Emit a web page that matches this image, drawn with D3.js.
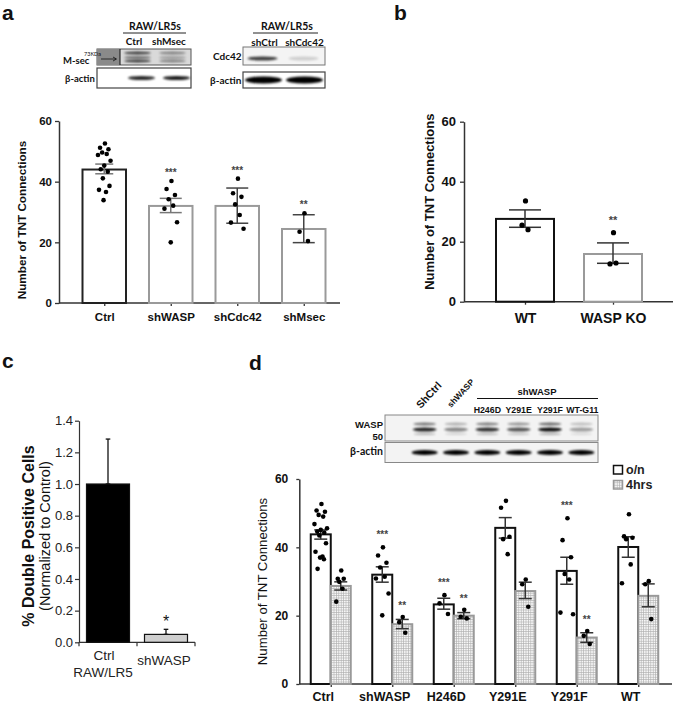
<!DOCTYPE html>
<html><head><meta charset="utf-8">
<script src="https://cdn.jsdelivr.net/npm/d3@7"></script>
<style>body{margin:0;background:#fff}svg{display:block}</style>
</head><body><svg id="c" width="675" height="704"></svg>
<script>
// ---------- DATA ----------
const tntTicks = [0, 20, 40, 60];

// panel a
const aCats = ["Ctrl", "shWASP", "shCdc42", "shMsec"];
const aMeans = [44.0, 32.0, 32.0, 24.4];
const aErrLo = [42.6, 29.8, 26.3, 19.9];
const aErrHi = [45.8, 34.5, 37.9, 29.1];
const aPoints = [
  [52.6, 51.2, 50.7, 49.6, 49.1, 48.8, 46.9, 45.3, 44.1, 43.3, 41.1, 38.6, 37.3, 36.6, 33.9],
  [40.2, 37.6, 35.6, 34.2, 32.1, 31.1, 26.6, 20.0],
  [41.0, 36.2, 35.0, 32.5, 29.0, 26.5, 24.5],
  [29.6, 23.5, 20.4]
];
const aStars = ["", "***", "***", "**"];

// panel b
const bCats = ["WT", "WASP KO"];
const bMeans = [27.6, 15.9];
const bErrLo = [24.8, 12.8];
const bErrHi = [30.6, 19.6];
const bPoints = [[33.6, 25.5, 24.0], [23.0, 12.6, 12.9]];
const bStars = ["", "**"];

// panel c
const cCats = ["Ctrl", "shWASP"];
const cSub = ["RAW/LR5", ""];
const cValues = [1.0, 0.05];
const cErrHi = [1.284, 0.082];
const cStars = ["", "*"];
const cTicks = [0.0, 0.2, 0.4, 0.6, 0.8, 1.0, 1.2, 1.4];

// panel d
const dCats = ["Ctrl", "shWASP", "H246D", "Y291E", "Y291F", "WT"];
const dSeries = ["o/n", "4hrs"];
const dOnMeans = [43.8, 32.0, 23.3, 45.7, 33.1, 40.1];
const dOnLo = [42.4, 29.8, 21.9, 42.7, 29.2, 37.1];
const dOnHi = [45.1, 34.3, 25.1, 48.7, 37.1, 43.1];
const dOnPoints = [
  [52.7, 50.8, 50.4, 49.5, 49.0, 46.8, 45.6, 45.1, 44.6, 44.3, 43.5, 41.2, 38.7, 37.3, 37.0, 36.5, 33.7],
  [40.0, 37.6, 35.5, 34.1, 31.4, 30.9, 26.5, 20.1],
  [26.0, 23.6, 20.5],
  [53.6, 51.6, 43.1, 42.4, 38.0],
  [48.5, 42.1, 37.1, 32.2, 30.6, 20.9, 20.4],
  [49.7, 43.2, 42.8, 42.4, 35.0, 29.5]
];
const d4Means = [28.7, 17.5, 20.0, 27.2, 13.6, 25.8];
const d4Lo = [27.5, 16.2, 19.1, 25.0, 12.2, 22.6];
const d4Hi = [29.9, 18.9, 20.9, 29.8, 15.0, 29.3];
const d4Points = [
  [33.2, 30.8, 30.8, 29.9, 27.9, 24.1],
  [19.6, 18.1, 15.0],
  [21.7, 19.7, 19.2],
  [30.6, 29.2, 22.6],
  [15.5, 14.1, 11.7],
  [30.1, 29.2, 19.0]
];
const dOnStars = ["", "***", "***", "", "***", ""];
const d4Stars = ["", "**", "**", "", "**", ""];

// blots
const a1Lanes = ["Ctrl", "shMsec"];
const a1Msec = [0.9, 0.5];
const a1Actin = [0.85, 0.9];
const a2Lanes = ["shCtrl", "shCdc42"];
const a2Cdc42 = [0.75, 0.15];
const a2Actin = [1.0, 1.0];
const dLanes = ["ShCtrl", "shWASP", "H246D", "Y291E", "Y291F", "WT-G11"];
const dWasp = [0.85, 0.45, 0.8, 0.65, 0.95, 0.35];
const dActin = [1.0, 1.0, 1.0, 1.0, 1.0, 1.0];

// ---------- HELPERS ----------
const FONT = "'Liberation Sans', Arial, sans-serif";
const BFONT = "Lato, 'Liberation Sans', sans-serif";
const svg = d3.select("#c");
const defs = svg.append("defs");
defs.append("filter").attr("id", "blur").attr("x", "-50%").attr("y", "-100%").attr("width", "200%").attr("height", "300%")
  .append("feGaussianBlur").attr("stdDeviation", 1.1);
const pat = defs.append("pattern").attr("id", "hatch").attr("width", 2.4).attr("height", 2.4).attr("patternUnits", "userSpaceOnUse");
pat.append("rect").attr("width", 2.4).attr("height", 2.4).attr("fill", "#f6f6f6");
pat.append("path").attr("d", "M0,0.3H2.4M0.3,0V2.4").attr("stroke", "#b0b0b0").attr("stroke-width", 0.7);

const JP = [0.1, -0.6, 0.6, -0.3, 0.35, -0.9, 0.9, 0, -0.5, 0.5, -0.2, 0.75, -0.75, 0.25, -0.1, 0.45, -0.45];
const jit = i => JP[i % JP.length];

function errBar(g, cx, y1, y2, half, color, sw) {
  g.append("line").attr("x1", cx).attr("x2", cx).attr("y1", y1).attr("y2", y2).attr("stroke", color).attr("stroke-width", sw);
  [y1, y2].forEach(yy => g.append("line").attr("x1", cx - half).attr("x2", cx + half).attr("y1", yy).attr("y2", yy)
    .attr("stroke", color).attr("stroke-width", sw));
}
function dots(g, cx, vals, ys, spread, r) {
  g.append("g").selectAll("circle").data(vals).join("circle")
    .attr("cx", (d, i) => cx + jit(i) * spread).attr("cy", d => ys(d)).attr("r", r).attr("fill", "#000");
}
function styleAxis(g, font, color) {
  g.selectAll("text").style("font", font).attr("fill", color || "#111");
  g.selectAll("line").attr("stroke", "#333").attr("stroke-width", 1.3);
  g.selectAll(".domain").attr("stroke", "#333").attr("stroke-width", 1.5);
}
function band(g, cx, cy, w, h, k) {
  g.append("ellipse").attr("cx", cx).attr("cy", cy).attr("rx", w / 2).attr("ry", h / 2)
    .attr("fill", "#000").attr("opacity", k).attr("filter", "url(#blur)");
}
function label(x, y, t, font, anchor, fill) {
  return svg.append("text").attr("x", x).attr("y", y).attr("text-anchor", anchor || "start")
    .style("font", font).attr("fill", fill || "#111").text(t);
}

// ---------- PANEL LETTERS ----------
label(2, 20, "a", "bold 21px " + FONT);
label(394, 20, "b", "bold 21px " + FONT);
label(2, 368, "c", "bold 21px " + FONT);
label(249, 370, "d", "bold 21px " + FONT);

// ---------- PANEL A BLOTS ----------
{
  const g = svg.append("g");
  const xl = d3.scalePoint().domain(a1Lanes).range([120, 190]).padding(0.5);
  label(155, 30, "RAW/LR5s", "bold 10.5px " + BFONT, "middle");
  g.append("line").attr("x1", 123).attr("x2", 186).attr("y1", 33).attr("y2", 33).attr("stroke", "#222").attr("stroke-width", 1);
  a1Lanes.forEach(l => label(xl(l) - 3.5, 45, l, "bold 10px " + BFONT, "middle"));
  // M-sec row
  g.append("rect").attr("x", 97).attr("y", 49).attr("width", 94).attr("height", 16).attr("fill", "#d9d9d9").attr("stroke", "#555");
  g.append("rect").attr("x", 97).attr("y", 49).attr("width", 23).attr("height", 16).attr("fill", "#8a8a8a");
  g.append("line").attr("x1", 120).attr("x2", 120).attr("y1", 49).attr("y2", 65).attr("stroke", "#111");
  a1Lanes.forEach((l, i) => {
    band(g, xl(l), 53, 27, 3, a1Msec[i] * 0.8);
    band(g, xl(l), 57.5, 27, 2.5, a1Msec[i] * 0.6);
    band(g, xl(l), 61, 27, 3, a1Msec[i] * 0.8);
  });
  g.append("line").attr("x1", 101).attr("x2", 116).attr("y1", 59).attr("y2", 59).attr("stroke", "#111").attr("stroke-width", 0.8);
  g.append("path").attr("d", "M113,57L116.5,59L113,61").attr("fill", "none").attr("stroke", "#111").attr("stroke-width", 0.8);
  label(63, 64, "M-sec", "bold 9.5px " + BFONT);
  label(84, 55.5, "73KDa", "5.5px " + BFONT);
  // actin row
  g.append("rect").attr("x", 97).attr("y", 68).attr("width", 94).attr("height", 20).attr("fill", "#fff").attr("stroke", "#444").attr("stroke-width", 1.2);
  a1Lanes.forEach((l, i) => band(g, xl(l) + 4, 78, 27, 4, a1Actin[i]));
  label(65, 82, "β-actin", "bold 9.5px " + BFONT);

  // second blot
  const xl2 = d3.scalePoint().domain(a2Lanes).range([243, 325]).padding(0.5);
  label(287, 30, "RAW/LR5s", "bold 10.5px " + BFONT, "middle");
  g.append("line").attr("x1", 253).attr("x2", 318).attr("y1", 33).attr("y2", 33).attr("stroke", "#222").attr("stroke-width", 1);
  a2Lanes.forEach(l => label(xl2(l) + (l === "shCtrl" ? 1 : 0), 45.5, l, "bold 10px " + BFONT, "middle"));
  g.append("rect").attr("x", 243).attr("y", 47).attr("width", 82).attr("height", 18).attr("fill", "#f4f4f4").attr("stroke", "#777");
  a2Lanes.forEach((l, i) => band(g, xl2(l) - 1, 58.5, 30, 4, a2Cdc42[i]));
  label(213, 60, "Cdc42", "bold 10px " + BFONT);
  g.append("rect").attr("x", 243).attr("y", 72).attr("width", 82).attr("height", 16).attr("fill", "#fff").attr("stroke", "#444").attr("stroke-width", 1.2);
  a2Lanes.forEach((l, i) => band(g, xl2(l), 80, 37, 7, a2Actin[i]));
  label(210, 84, "β-actin", "bold 10px " + BFONT);
}

// ---------- PANEL A CHART ----------
{
  const g = svg.append("g");
  const ys = d3.scaleLinear().domain([0, 60]).range([303, 121]);
  const xs = d3.scalePoint().domain(aCats).range([71, 337]).padding(0.5);
  const bw = 43.5;
  g.append("g").attr("transform", "translate(59,0)")
    .call(d3.axisLeft(ys).tickValues(tntTicks).tickSize(4).tickSizeOuter(0).tickPadding(3))
    .call(a => styleAxis(a, "bold 11.5px " + FONT));
  g.append("line").attr("x1", 59).attr("x2", 340).attr("y1", ys(0)).attr("y2", ys(0)).attr("stroke", "#333").attr("stroke-width", 1.5);
  g.append("g").attr("transform", `translate(0,${ys(0)})`)
    .call(d3.axisBottom(xs).tickSize(3).tickPadding(7))
    .call(a => { a.select(".domain").remove(); styleAxis(a, "bold 11.5px " + FONT); });
  aCats.forEach((c, i) => {
    const cx = xs(c);
    g.append("rect").attr("x", cx - bw / 2).attr("y", ys(aMeans[i])).attr("width", bw).attr("height", ys(0) - ys(aMeans[i]))
      .attr("fill", "#fff").attr("stroke", i === 0 ? "#222" : "#9a9a9a").attr("stroke-width", 2);
    errBar(g, cx, ys(aErrLo[i]), ys(aErrHi[i]), i === 0 ? 9 : 11, i === 2 || i === 3 ? "#444" : "#777", 1.5);
    dots(g, cx, aPoints[i], ys, 7, 2.3);
    if (aStars[i]) {
      const top = Math.max(aErrHi[i], d3.max(aPoints[i]));
      label(cx, ys(top) - 5, aStars[i], "bold 10px " + FONT, "middle", "#444");
    }
  });
  g.append("text").attr("transform", `translate(26,${(121 + 303) / 2 + 8}) rotate(-90)`).attr("text-anchor", "middle")
    .style("font", "bold 11.7px " + FONT).attr("fill", "#111").text("Number of TNT Connections");
}

// ---------- PANEL B ----------
{
  const g = svg.append("g");
  const ys = d3.scaleLinear().domain([0, 60]).range([301.7, 121.7]);
  const xs = d3.scalePoint().domain(bCats).range([481, 657]).padding(0.5);
  const bw = 58;
  g.append("g").attr("transform", "translate(464,0)")
    .call(d3.axisLeft(ys).tickValues(tntTicks).tickSize(4).tickSizeOuter(0).tickPadding(4))
    .call(a => styleAxis(a, "bold 13px " + FONT));
  g.append("line").attr("x1", 464).attr("x2", 673).attr("y1", ys(0)).attr("y2", ys(0)).attr("stroke", "#333").attr("stroke-width", 1.5);
  g.append("g").attr("transform", `translate(0,${ys(0)})`)
    .call(d3.axisBottom(xs).tickSize(3).tickPadding(8))
    .call(a => { a.select(".domain").remove(); styleAxis(a, "bold 14px " + FONT); });
  bCats.forEach((c, i) => {
    const cx = xs(c);
    g.append("rect").attr("x", cx - bw / 2).attr("y", ys(bMeans[i])).attr("width", bw).attr("height", ys(0) - ys(bMeans[i]))
      .attr("fill", "#fff").attr("stroke", i === 0 ? "#111" : "#9a9a9a").attr("stroke-width", 2);
    errBar(g, cx, ys(bErrLo[i]), ys(bErrHi[i]), 16, "#333", 1.5);
    dots(g, cx, bPoints[i], ys, 5, 2.6);
    if (bStars[i]) {
      const top = Math.max(bErrHi[i], d3.max(bPoints[i]));
      label(cx, ys(top) - 9, bStars[i], "bold 11px " + FONT, "middle", "#444");
    }
  });
  g.append("text").attr("transform", `translate(434,${(121.7 + 301.7) / 2 - 10}) rotate(-90)`).attr("text-anchor", "middle")
    .style("font", "bold 13px " + FONT).attr("fill", "#111").text("Number of TNT Connections");
}

// ---------- PANEL C ----------
{
  const g = svg.append("g");
  const ys = d3.scaleLinear().domain([0, 1.4]).range([642.3, 420.7]);
  const xs = d3.scaleBand().domain(cCats).range([79, 195]);
  const bw = 43;
  g.append("g").attr("transform", "translate(79,0)")
    .call(d3.axisLeft(ys).tickValues(cTicks).tickFormat(d3.format(".1f")).tickSize(4).tickSizeOuter(0).tickPadding(2))
    .call(a => { styleAxis(a, "13px " + FONT, "#222"); a.selectAll("line,.domain").attr("stroke-width", 1.2); });
  g.append("g").attr("transform", `translate(0,${ys(0)})`)
    .call(d3.axisBottom(xs).tickSize(0).tickFormat(() => ""))
    .call(a => { a.select(".domain").attr("d", "M79,0H195").attr("stroke", "#333").attr("stroke-width", 1.2); });
  [79, 79 + xs.step(), 195].forEach(x => g.append("line").attr("x1", x).attr("x2", x).attr("y1", ys(0)).attr("y2", ys(0) + 4)
    .attr("stroke", "#333").attr("stroke-width", 1.2));
  cCats.forEach((c, i) => {
    const cx = xs(c) + xs.bandwidth() / 2;
    errBar(g, cx, ys(cValues[i]), ys(cErrHi[i]), 2.3, "#111", 1.3);
    g.append("rect").attr("x", cx - bw / 2).attr("y", ys(cValues[i])).attr("width", bw).attr("height", ys(0) - ys(cValues[i]))
      .attr("fill", i === 0 ? "#000" : "#cfcfcf").attr("stroke", "#111").attr("stroke-width", 1.2);
    if (cStars[i]) label(cx, ys(cErrHi[i]) - 2, cStars[i], "16px " + FONT, "middle", "#111");
  });
  label(xs("Ctrl") + xs.bandwidth() / 2 - 4, 660, "Ctrl", "13.5px " + FONT, "middle", "#222");
  label(xs("Ctrl") + xs.bandwidth() / 2 - 5, 677, cSub[0], "13.5px " + FONT, "middle", "#222");
  label(xs("shWASP") + xs.bandwidth() / 2 - 2, 665, "shWASP", "13.5px " + FONT, "middle", "#222");
  const cy = 536;
  g.append("text").attr("transform", `translate(34,${cy}) rotate(-90)`).attr("text-anchor", "middle")
    .style("font", "bold 16px " + FONT).attr("fill", "#111").text("% Double Positive Cells");
  g.append("text").attr("transform", `translate(50,${cy}) rotate(-90)`).attr("text-anchor", "middle")
    .style("font", "14.5px " + FONT).attr("fill", "#111").text("(Normalized to Control)");
}

// ---------- PANEL D BLOT ----------
{
  const g = svg.append("g");
  const xl = d3.scalePoint().domain(dLanes).range([409, 597]).padding(0.5);
  g.append("rect").attr("x", 385).attr("y", 415).attr("width", 213).attr("height", 26).attr("fill", "#f3f3f3").attr("stroke", "#888");
  g.append("rect").attr("x", 385).attr("y", 442.5).attr("width", 213).attr("height", 20).attr("fill", "#f3f3f3").attr("stroke", "#888");
  dLanes.forEach((l, i) => {
    band(g, xl(l), 424, 23, 3, dWasp[i] * 0.6);
    band(g, xl(l), 429.5, 24, 4, dWasp[i]);
    band(g, xl(l), 434, 22, 2, dWasp[i] * 0.3);
    band(g, xl(l), 452.5, 26, 5, dActin[i]);
  });
  label(383, 428, "WASP", "bold 9.5px " + FONT, "end");
  label(383, 440, "50", "bold 9.5px " + FONT, "end");
  label(383, 455, "β-actin", "bold 10.5px " + BFONT, "end");
  svg.append("text").attr("transform", `translate(${xl("ShCtrl") - 4},409) rotate(-47)`)
    .style("font", "bold 10.5px " + FONT).attr("fill", "#111").text("ShCtrl");
  svg.append("text").attr("transform", `translate(${xl("shWASP") - 5},408) rotate(-47)`)
    .style("font", "bold 8.5px " + FONT).attr("fill", "#111").text("shWASP");
  label(537, 395, "shWASP", "bold 9.5px " + FONT, "middle");
  g.append("line").attr("x1", 477).attr("x2", 598).attr("y1", 398.5).attr("y2", 398.5).attr("stroke", "#111").attr("stroke-width", 1.2);
  dLanes.slice(2).forEach(l => label(xl(l) + (l === "WT-G11" ? 1 : 0), 413, l, "bold 8.8px " + FONT, "middle"));
}

// ---------- PANEL D CHART ----------
{
  const g = svg.append("g");
  const ys = d3.scaleLinear().domain([0, 60]).range([684, 479]);
  const xs = d3.scalePoint().domain(dCats).range([300, 669]).padding(0.5);
  const bw = 20;
  g.append("g").attr("transform", "translate(299.3,0)")
    .call(d3.axisLeft(ys).tickValues(tntTicks).tickSize(3).tickSizeOuter(0).tickPadding(8))
    .call(a => styleAxis(a, "bold 12px " + FONT));
  g.append("line").attr("x1", 299.3).attr("x2", 672).attr("y1", ys(0)).attr("y2", ys(0)).attr("stroke", "#333").attr("stroke-width", 1.5);
  g.append("g").attr("transform", `translate(0,${ys(0)})`)
    .call(d3.axisBottom(xs).tickSize(3).tickPadding(5))
    .call(a => { a.select(".domain").remove(); styleAxis(a, "bold 12.5px " + FONT); a.selectAll("text").attr("x", -8); });
  dCats.forEach((c, i) => {
    const cx = xs(c);
    const xo = cx - bw / 2, x4 = cx + bw / 2;
    g.append("rect").attr("x", cx - bw).attr("y", ys(dOnMeans[i])).attr("width", bw).attr("height", ys(0) - ys(dOnMeans[i]))
      .attr("fill", "#fff").attr("stroke", "#111").attr("stroke-width", 2);
    g.append("rect").attr("x", cx).attr("y", ys(d4Means[i])).attr("width", bw).attr("height", ys(0) - ys(d4Means[i]))
      .attr("fill", "url(#hatch)").attr("stroke", "#999").attr("stroke-width", 2);
    errBar(g, xo, ys(dOnLo[i]), ys(dOnHi[i]), 6.5, "#333", 1.5);
    errBar(g, x4, ys(d4Lo[i]), ys(d4Hi[i]), 6.5, "#333", 1.5);
    dots(g, xo, dOnPoints[i], ys, 7, 2.3);
    dots(g, x4, d4Points[i], ys, 5, 2.3);
    if (dOnStars[i]) label(xo, ys(Math.max(dOnHi[i], d3.max(dOnPoints[i]))) - 9, dOnStars[i], "bold 10px " + FONT, "middle", "#444");
    if (d4Stars[i]) label(x4, ys(Math.max(d4Hi[i], d3.max(d4Points[i]))) - 8, d4Stars[i], "bold 10px " + FONT, "middle", "#444");
  });
  g.append("text").attr("transform", `translate(267,${(479 + 684) / 2}) rotate(-90)`).attr("text-anchor", "middle")
    .style("font", "13.2px " + FONT).attr("fill", "#111").text("Number of TNT Connections");
  // legend
  const lg = g.append("g");
  dSeries.forEach((s, i) => {
    const y0 = 465.5 + i * 15;
    lg.append("rect").attr("x", 613.5).attr("y", y0).attr("width", 9).attr("height", 8.5)
      .attr("fill", i === 0 ? "#fff" : "url(#hatch)").attr("stroke", i === 0 ? "#111" : "#999").attr("stroke-width", 1.5);
    lg.append("text").attr("x", 626).attr("y", y0 + 8.5).style("font", "bold 12.5px " + FONT).attr("fill", "#222").text(s);
  });
}
</script></body></html>
